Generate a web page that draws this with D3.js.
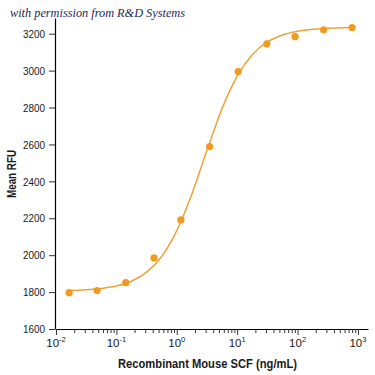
<!DOCTYPE html>
<html lang="en">
<head>
  <meta charset="utf-8" />
  <title>SCF dose response</title>
  <script src="https://cdn.jsdelivr.net/npm/d3@7"></script>
  <style>
    body { margin: 0; background: white; }
    text { font-family: "Liberation Sans", "DejaVu Sans", sans-serif; }
  </style>
</head>
<body>
<script>

// measured points (ng/mL, mean RFU)
var conc = [0.0165, 0.048, 0.143, 0.42, 1.17, 3.5, 10.4, 31, 91, 270, 800];
var rfu = [1797, 1808, 1851, 1985, 2191, 2588, 2995, 3145, 3184, 3221, 3233];

// fitted curve
var curveConc = [0.0166, 0.0316, 0.0562, 0.1, 0.178, 0.316, 0.562, 1, 1.78, 3.16,
                 5.62, 10, 17.8, 31.6, 56.2, 100, 178, 316, 562, 794];
var curveRfu = [1808, 1812, 1820, 1833, 1859, 1908, 1993, 2133, 2332, 2568,
                2794, 2970, 3086, 3155, 3193, 3213, 3224, 3229, 3232, 3233];

var yTicks = [1600, 1800, 2000, 2200, 2400, 2600, 2800, 3000, 3200];
var xMajor = [-2, -1, 0, 1, 2, 3];

var w = 375, h = 375;
var orange = "#f29a1f";

var svg = d3.select("body").append("svg")
  .attr("width", w)
  .attr("height", h);

var xScale = d3.scaleLog()
  .domain([0.01, 1466])
  .range([56, 368]);
var yScale = d3.scaleLinear()
  .domain([1600, 3285])
  .range([329, 18]);

// x ticks: majors and minors
var xTickVals = [];
xMajor.forEach(function(e) {
  var base = Math.pow(10, e);
  xTickVals.push(base);
  if (e < 3) for (var k = 2; k <= 9; k++) xTickVals.push(k * base);
});
function isMajor(d) {
  var l = Math.log10(d);
  return Math.abs(l - Math.round(l)) < 1e-9;
}

var xAxis = d3.axisBottom(xScale)
  .tickValues(xTickVals)
  .tickFormat("")
  .tickSize(6)
  .tickSizeOuter(0);
var gx = svg.append("g")
  .attr("transform", "translate(0,329)")
  .call(xAxis);
gx.attr("font-family", null);
gx.selectAll(".tick line")
  .attr("y2", function(d) { return isMajor(d) ? 6 : 4; })
  .attr("stroke", "#333");
gx.select(".domain").attr("stroke-width", 1.2);

var lab = gx.selectAll(".xlab")
  .data(xMajor)
  .enter().append("text")
  .attr("class", "xlab")
  .attr("x", function(e) { return xScale(Math.pow(10, e)); })
  .attr("y", 18)
  .attr("fill", "#1a1a1a")
  .attr("font-size", 11.5)
  .attr("text-anchor", "middle");
lab.append("tspan").text("10");
lab.append("tspan")
  .attr("font-size", 7.5)
  .attr("dy", -5)
  .text(function(e) { return e < 0 ? "-" + (-e) : e; });

var yAxis = d3.axisLeft(yScale)
  .tickValues(yTicks)
  .tickFormat(d3.format("d"))
  .tickSize(6)
  .tickPadding(4)
  .tickSizeOuter(0);
var gy = svg.append("g")
  .attr("transform", "translate(55,0)")
  .call(yAxis);
gy.attr("font-family", null);
gy.select(".domain").attr("stroke-width", 1.2);
gy.selectAll(".tick line").attr("stroke", "#333");
gy.selectAll(".tick text")
  .attr("font-size", 11.5)
  .attr("fill", "#1a1a1a")
  .attr("textLength", 22)
  .attr("lengthAdjust", "spacingAndGlyphs");

// fitted curve
var line = d3.line()
  .x(function(d) { return xScale(d[0]); })
  .y(function(d) { return yScale(d[1]); })
  .curve(d3.curveMonotoneX);
svg.append("path")
  .datum(d3.zip(curveConc, curveRfu))
  .attr("d", line)
  .attr("fill", "none")
  .attr("stroke", "#eda33a")
  .attr("stroke-width", 1.5);

svg.selectAll("circle")
  .data(d3.zip(conc, rfu))
  .enter().append("circle")
  .attr("cx", function(d) { return xScale(d[0]); })
  .attr("cy", function(d) { return yScale(d[1]); })
  .attr("r", 3.6)
  .attr("fill", orange);

// axis titles
svg.append("text")
  .attr("x", 207.5)
  .attr("y", 368)
  .attr("text-anchor", "middle")
  .attr("font-size", 13.5)
  .attr("font-weight", "bold")
  .attr("fill", "#1a1a1a")
  .attr("textLength", 179)
  .attr("lengthAdjust", "spacingAndGlyphs")
  .text("Recombinant Mouse SCF (ng/mL)");

svg.append("text")
  .attr("transform", "translate(16,174) rotate(-90)")
  .attr("text-anchor", "middle")
  .attr("font-size", 13.5)
  .attr("font-weight", "bold")
  .attr("fill", "#1a1a1a")
  .attr("textLength", 48)
  .attr("lengthAdjust", "spacingAndGlyphs")
  .text("Mean RFU");

svg.append("text")
  .attr("x", 10)
  .attr("y", 17)
  .attr("font-size", 13)
  .attr("font-style", "italic")
  .attr("fill", "#1c2b5e")
  .attr("textLength", 175)
  .attr("lengthAdjust", "spacingAndGlyphs")
  .style("font-family", "'Liberation Serif', 'DejaVu Serif', serif")
  .text("with permission from R&D Systems");

</script>
</body>
</html>
